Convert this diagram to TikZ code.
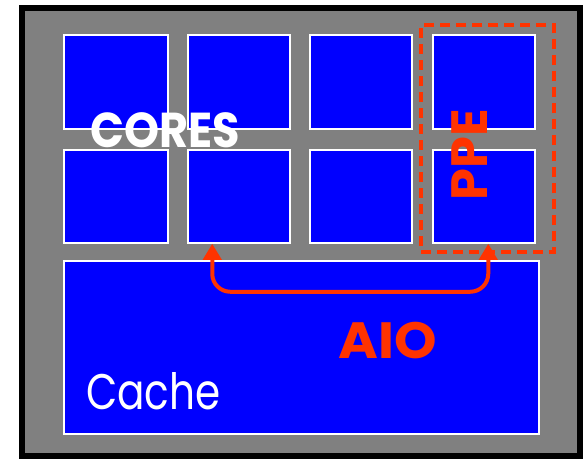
\documentclass[tikz,border=0pt]{standalone}
\usepackage{fontspec}
\setmainfont{Poppins}
\usetikzlibrary{arrows.meta,calc}
\definecolor{chipgray}{HTML}{808080}
\definecolor{coreblue}{HTML}{0000FF}
\definecolor{aiored}{HTML}{FF3300}
\begin{document}
\begin{tikzpicture}[x=1pt,y=-1pt,
  corebox/.style={draw=white,line width=1.5pt,fill=coreblue,inner sep=0pt},
  redtext/.style={text=aiored,font=\fontsize{51}{51}\selectfont\bfseries,inner sep=0pt},
  aioarrow/.style={draw=aiored,line width=4pt,rounded corners=18pt,{Triangle[length=16pt,width=18pt]}-{Triangle[length=16pt,width=18pt]}}]
\useasboundingbox (0,0) rectangle (585,459);
\draw[fill=chipgray,draw=black,line width=6pt] (22,8) rectangle (580,456);
% cores
\node[corebox,minimum width=104pt,minimum height=94pt] (b11) at (116,82) {};
\node[corebox,minimum width=102pt,minimum height=94pt] (b12) at (239,82) {};
\node[corebox,minimum width=102pt,minimum height=94pt] (b13) at (361,82) {};
\node[corebox,minimum width=102pt,minimum height=94pt] (b14) at (484,82) {};
\node[corebox,minimum width=104pt,minimum height=93pt] (b21) at (116,196.5) {};
\node[corebox,minimum width=102pt,minimum height=93pt] (b22) at (239,196.5) {};
\node[corebox,minimum width=102pt,minimum height=93pt] (b23) at (361,196.5) {};
\node[corebox,minimum width=102pt,minimum height=93pt] (b24) at (484,196.5) {};
% cache
\node[corebox,minimum width=475pt,minimum height=173pt] (cache) at (301.5,347.5) {};
% PPE dashed group
\node[draw=aiored,line width=3.5pt,dash pattern=on 10pt off 6pt,minimum width=133pt,minimum height=227pt,inner sep=0pt] (ppe) at (487.5,138.5) {};
% labels
\node[text=white,font=\fontsize{49}{49}\selectfont\bfseries,inner sep=0pt,anchor=base] (cores) at (165.5,147) {\scalebox{0.91}[1]{CORES}};
\node[redtext,rotate=90,anchor=base] (ppelabel) at (487,155) {PPE};
\node[redtext,anchor=base] (aio) at (388,358) {\scalebox{1.06}[1]{AIO}};
\node[text=white,font=\fontsize{50}{50}\selectfont,inner sep=0pt,anchor=base west] (cachelabel) at (86,409) {\scalebox{0.81}[1]{Cache}};
% arrow
\coordinate (la) at ($(b22.south west)+(25,0)$);
\coordinate (ra) at ($(b24.south west)+(56,0)$);
\draw[aioarrow] (la) -- ++(0,48) -- ($(ra)+(0,48)$) -- (ra);
\end{tikzpicture}
\end{document}
